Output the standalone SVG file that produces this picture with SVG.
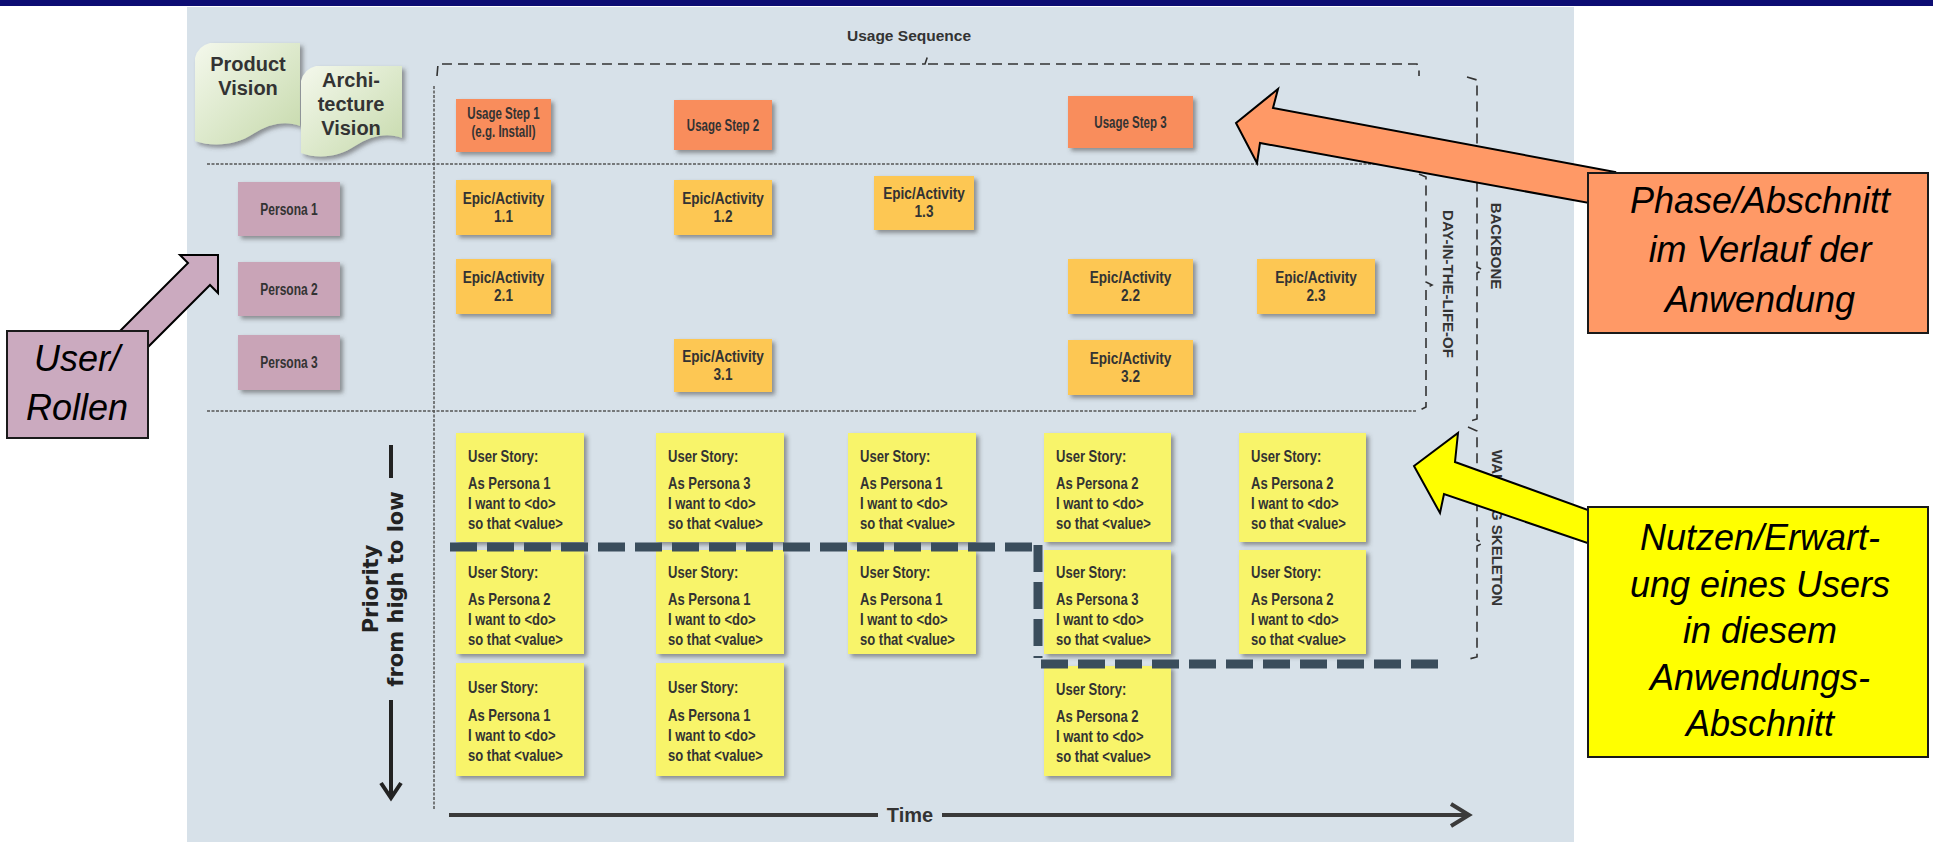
<svg xmlns="http://www.w3.org/2000/svg" width="1933" height="842" viewBox="0 0 1933 842">
<defs>
  <filter id="sh" x="-10%" y="-10%" width="125%" height="130%">
    <feDropShadow dx="3" dy="3" stdDeviation="2" flood-color="#4a4a4a" flood-opacity="0.55"/>
  </filter>
  <linearGradient id="doc" x1="0" y1="0" x2="1" y2="1">
    <stop offset="0" stop-color="#f4f8ec"/>
    <stop offset="0.5" stop-color="#dde9cc"/>
    <stop offset="1" stop-color="#c6d9ab"/>
  </linearGradient>
  <style>
    .t{font-family:"Liberation Sans",Arial,sans-serif;font-weight:bold;fill:#333;}
    .c{text-anchor:middle;}
    .step{fill:#f98d5b;filter:url(#sh);}
    .pers{fill:#c9a4b7;filter:url(#sh);}
    .epic{fill:#fdc752;filter:url(#sh);}
    .story{fill:#f8f46b;filter:url(#sh);}
    .f16{font-size:16px;}
    .f17{font-size:17px;}
    .st{font-size:16.5px;}
    .call{font-family:"Liberation Sans",Arial,sans-serif;font-style:italic;font-size:36px;fill:#000;text-anchor:middle;}
    .cbox{stroke:#1a1a1a;stroke-width:2;}
    .dash{fill:none;stroke:#333;stroke-width:1.6;stroke-dasharray:10 6;}
    .dot{fill:none;stroke:#555;stroke-width:1.5;stroke-dasharray:3 1.5;}
    .thick{fill:none;stroke:#3a4d5c;stroke-width:9;stroke-dasharray:27 10;}
    .rot{font-family:"Liberation Sans",Arial,sans-serif;font-weight:bold;font-size:15px;fill:#333;text-anchor:middle;}
    .axis{font-family:"DejaVu Sans",Verdana,sans-serif;font-weight:bold;fill:#222;text-anchor:middle;}
  </style>
</defs>

<!-- background -->
<rect x="0" y="0" width="1933" height="842" fill="#ffffff"/>
<rect x="0" y="0" width="1933" height="6" fill="#0d0d73"/>
<rect x="187" y="7" width="1387" height="835" fill="#d7e1e9"/>

<!-- connectors / guide lines -->
<g id="connectors">
  <path class="dash" d="M437,76 L438,64 L925,64 L928,55 M928,64 L1417,64 L1419,68 L1419,76"/>
  <line class="dot" x1="434" y1="86" x2="434" y2="810"/>
  <line class="dot" x1="207" y1="164" x2="1418" y2="164"/>
  <line class="dot" x1="207" y1="411" x2="1416" y2="411"/>
  <path class="dash" d="M1419,174 L1426,177 L1426,282 L1432,285 L1426,288 L1426,407 L1418,411"/>
  <path class="dash" d="M1467,77 L1477,80 L1477,267 L1483,270 L1477,273 L1477,419 L1467,422"/>
  <path class="dash" d="M1468,427 L1477,431 L1477,540 L1483,543 L1477,546 L1477,657 L1465,660"/>
  <line x1="391" y1="445" x2="391" y2="478" stroke="#222" stroke-width="4"/>
  <line x1="391" y1="700" x2="391" y2="797" stroke="#222" stroke-width="4"/>
  <polyline points="381,783 391,798 401,783" fill="none" stroke="#222" stroke-width="4"/>
  <line x1="449" y1="815" x2="878" y2="815" stroke="#3a3a3a" stroke-width="4"/>
  <line x1="942" y1="815" x2="1466" y2="815" stroke="#3a3a3a" stroke-width="4"/>
  <polyline points="1451,804 1469,815 1451,826" fill="none" stroke="#3a3a3a" stroke-width="4"/>
</g>

<!-- labels -->
<g id="labels">
  <text class="t c" x="909" y="41" font-size="15.5">Usage Sequence</text>
  <text class="rot" font-size="16" transform="translate(1443,284) rotate(90)">DAY-IN-THE-LIFE-OF</text>
  <text class="rot" transform="translate(1491,246) rotate(90)">BACKBONE</text>
  <text class="rot" transform="translate(1492,528) rotate(90)">WALKING SKELETON</text>
  <g transform="translate(378,589) rotate(-90)">
    <text class="axis" x="0" y="0" font-size="21">Priority</text>
    <text class="axis" x="0" y="25" font-size="21">from high to low</text>
  </g>
  <text class="t c" x="910" y="822" font-size="20" fill="#222">Time</text>
</g>

<!-- vision documents -->
<g id="product-vision">
  <path d="M195,58 Q198,46 210,43 L300,43 L300,126 C285,120 268,124 253,134 C238,144 215,148 195,141 Z" fill="url(#doc)" filter="url(#sh)"/>
  <text class="t c" x="248" y="71" font-size="20">Product</text>
  <text class="t c" x="248" y="95" font-size="20">Vision</text>
</g>
<g id="architecture-vision">
  <path d="M301,81 Q304,69 316,66 L402,66 L402,138 C387,132 370,136 355,146 C340,156 320,160 301,153 Z" fill="url(#doc)" filter="url(#sh)"/>
  <text class="t c" x="351" y="87" font-size="20">Archi-</text>
  <text class="t c" x="351" y="111" font-size="20">tecture</text>
  <text class="t c" x="351" y="135" font-size="20">Vision</text>
</g>

<!-- usage steps -->
<g id="step1"><rect class="step" x="456" y="99" width="95" height="53"/>
  <g transform="translate(503.5,0) scale(0.72,1)"><text class="t c f16" x="0" y="119">Usage Step 1</text><text class="t c f16" x="0" y="137">(e.g. Install)</text></g></g>
<g id="step2"><rect class="step" x="674" y="100" width="98" height="50"/>
  <g transform="translate(723,0) scale(0.72,1)"><text class="t c f16" x="0" y="131">Usage Step 2</text></g></g>
<g id="step3"><rect class="step" x="1068" y="96" width="125" height="52"/>
  <g transform="translate(1130.5,0) scale(0.72,1)"><text class="t c f16" x="0" y="128">Usage Step 3</text></g></g>

<!-- personas -->
<g id="persona1"><rect class="pers" x="238" y="182" width="102" height="54"/>
  <g transform="translate(289,0) scale(0.75,1)"><text class="t c f16" x="0" y="215">Persona 1</text></g></g>
<g id="persona2"><rect class="pers" x="238" y="262" width="102" height="54"/>
  <g transform="translate(289,0) scale(0.75,1)"><text class="t c f16" x="0" y="295">Persona 2</text></g></g>
<g id="persona3"><rect class="pers" x="238" y="335" width="102" height="55"/>
  <g transform="translate(289,0) scale(0.75,1)"><text class="t c f16" x="0" y="368">Persona 3</text></g></g>

<!-- epics -->
<g id="epic11"><rect class="epic" x="456" y="180" width="95" height="55"/>
  <g transform="translate(503.5,0) scale(0.8,1)"><text class="t c f17" x="0" y="204">Epic/Activity</text><text class="t c f17" x="0" y="222">1.1</text></g></g>
<g id="epic12"><rect class="epic" x="674" y="180" width="98" height="55"/>
  <g transform="translate(723,0) scale(0.8,1)"><text class="t c f17" x="0" y="204">Epic/Activity</text><text class="t c f17" x="0" y="222">1.2</text></g></g>
<g id="epic13"><rect class="epic" x="874" y="176" width="100" height="54"/>
  <g transform="translate(924,0) scale(0.8,1)"><text class="t c f17" x="0" y="199">Epic/Activity</text><text class="t c f17" x="0" y="217">1.3</text></g></g>
<g id="epic21"><rect class="epic" x="456" y="259" width="95" height="55"/>
  <g transform="translate(503.5,0) scale(0.8,1)"><text class="t c f17" x="0" y="283">Epic/Activity</text><text class="t c f17" x="0" y="301">2.1</text></g></g>
<g id="epic22"><rect class="epic" x="1068" y="259" width="125" height="55"/>
  <g transform="translate(1130.5,0) scale(0.8,1)"><text class="t c f17" x="0" y="283">Epic/Activity</text><text class="t c f17" x="0" y="301">2.2</text></g></g>
<g id="epic23"><rect class="epic" x="1257" y="259" width="118" height="55"/>
  <g transform="translate(1316,0) scale(0.8,1)"><text class="t c f17" x="0" y="283">Epic/Activity</text><text class="t c f17" x="0" y="301">2.3</text></g></g>
<g id="epic31"><rect class="epic" x="674" y="339" width="98" height="53"/>
  <g transform="translate(723,0) scale(0.8,1)"><text class="t c f17" x="0" y="362">Epic/Activity</text><text class="t c f17" x="0" y="380">3.1</text></g></g>
<g id="epic32"><rect class="epic" x="1068" y="340" width="125" height="55"/>
  <g transform="translate(1130.5,0) scale(0.8,1)"><text class="t c f17" x="0" y="364">Epic/Activity</text><text class="t c f17" x="0" y="382">3.2</text></g></g>

<!-- user stories -->
<g id="story-r1c1"><rect class="story" x="456" y="433" width="128" height="109"/>
  <g transform="translate(468,0) scale(0.79,1)"><text class="t st" x="0" y="462">User Story:</text><text class="t st" x="0" y="489">As Persona 1</text><text class="t st" x="0" y="509">I want to &lt;do&gt;</text><text class="t st" x="0" y="529">so that &lt;value&gt;</text></g></g>
<g id="story-r1c2"><rect class="story" x="656" y="433" width="128" height="109"/>
  <g transform="translate(668,0) scale(0.79,1)"><text class="t st" x="0" y="462">User Story:</text><text class="t st" x="0" y="489">As Persona 3</text><text class="t st" x="0" y="509">I want to &lt;do&gt;</text><text class="t st" x="0" y="529">so that &lt;value&gt;</text></g></g>
<g id="story-r1c3"><rect class="story" x="848" y="433" width="128" height="109"/>
  <g transform="translate(860,0) scale(0.79,1)"><text class="t st" x="0" y="462">User Story:</text><text class="t st" x="0" y="489">As Persona 1</text><text class="t st" x="0" y="509">I want to &lt;do&gt;</text><text class="t st" x="0" y="529">so that &lt;value&gt;</text></g></g>
<g id="story-r1c4"><rect class="story" x="1044" y="433" width="127" height="109"/>
  <g transform="translate(1056,0) scale(0.79,1)"><text class="t st" x="0" y="462">User Story:</text><text class="t st" x="0" y="489">As Persona 2</text><text class="t st" x="0" y="509">I want to &lt;do&gt;</text><text class="t st" x="0" y="529">so that &lt;value&gt;</text></g></g>
<g id="story-r1c5"><rect class="story" x="1239" y="433" width="127" height="109"/>
  <g transform="translate(1251,0) scale(0.79,1)"><text class="t st" x="0" y="462">User Story:</text><text class="t st" x="0" y="489">As Persona 2</text><text class="t st" x="0" y="509">I want to &lt;do&gt;</text><text class="t st" x="0" y="529">so that &lt;value&gt;</text></g></g>

<g id="story-r2c1"><rect class="story" x="456" y="550" width="128" height="104"/>
  <g transform="translate(468,0) scale(0.79,1)"><text class="t st" x="0" y="578">User Story:</text><text class="t st" x="0" y="605">As Persona 2</text><text class="t st" x="0" y="625">I want to &lt;do&gt;</text><text class="t st" x="0" y="645">so that &lt;value&gt;</text></g></g>
<g id="story-r2c2"><rect class="story" x="656" y="550" width="128" height="104"/>
  <g transform="translate(668,0) scale(0.79,1)"><text class="t st" x="0" y="578">User Story:</text><text class="t st" x="0" y="605">As Persona 1</text><text class="t st" x="0" y="625">I want to &lt;do&gt;</text><text class="t st" x="0" y="645">so that &lt;value&gt;</text></g></g>
<g id="story-r2c3"><rect class="story" x="848" y="550" width="128" height="104"/>
  <g transform="translate(860,0) scale(0.79,1)"><text class="t st" x="0" y="578">User Story:</text><text class="t st" x="0" y="605">As Persona 1</text><text class="t st" x="0" y="625">I want to &lt;do&gt;</text><text class="t st" x="0" y="645">so that &lt;value&gt;</text></g></g>
<g id="story-r2c4"><rect class="story" x="1044" y="550" width="127" height="104"/>
  <g transform="translate(1056,0) scale(0.79,1)"><text class="t st" x="0" y="578">User Story:</text><text class="t st" x="0" y="605">As Persona 3</text><text class="t st" x="0" y="625">I want to &lt;do&gt;</text><text class="t st" x="0" y="645">so that &lt;value&gt;</text></g></g>
<g id="story-r2c5"><rect class="story" x="1239" y="550" width="127" height="104"/>
  <g transform="translate(1251,0) scale(0.79,1)"><text class="t st" x="0" y="578">User Story:</text><text class="t st" x="0" y="605">As Persona 2</text><text class="t st" x="0" y="625">I want to &lt;do&gt;</text><text class="t st" x="0" y="645">so that &lt;value&gt;</text></g></g>

<g id="story-r3c1"><rect class="story" x="456" y="663" width="128" height="113"/>
  <g transform="translate(468,0) scale(0.79,1)"><text class="t st" x="0" y="693">User Story:</text><text class="t st" x="0" y="721">As Persona 1</text><text class="t st" x="0" y="741">I want to &lt;do&gt;</text><text class="t st" x="0" y="761">so that &lt;value&gt;</text></g></g>
<g id="story-r3c2"><rect class="story" x="656" y="663" width="128" height="113"/>
  <g transform="translate(668,0) scale(0.79,1)"><text class="t st" x="0" y="693">User Story:</text><text class="t st" x="0" y="721">As Persona 1</text><text class="t st" x="0" y="741">I want to &lt;do&gt;</text><text class="t st" x="0" y="761">so that &lt;value&gt;</text></g></g>
<g id="story-r3c4"><rect class="story" x="1044" y="666" width="127" height="110"/>
  <g transform="translate(1056,0) scale(0.79,1)"><text class="t st" x="0" y="695">User Story:</text><text class="t st" x="0" y="722">As Persona 2</text><text class="t st" x="0" y="742">I want to &lt;do&gt;</text><text class="t st" x="0" y="762">so that &lt;value&gt;</text></g></g>

<!-- walking skeleton cut line -->
<g id="cut-line">
  <path class="thick" d="M450,547 L1038,547 M1038,545 L1038,658 M1041,664 L1447,664"/>
</g>

<!-- callout arrows -->
<g id="callout-arrows">
  <polygon points="1236,123 1278,89 1273,108 1615,172 1600,205 1260,143 1257,163" fill="#ff9966" stroke="#000" stroke-width="2"/>
  <polygon points="1414,466 1458,433 1455,462 1610,518 1605,549 1444,494 1440,513" fill="#ffff00" stroke="#000" stroke-width="2"/>
  <polygon points="218,255 180,255 188,263 110,341 132,363 210,285 218,293" fill="#cbaabf" stroke="#000" stroke-width="2"/>
</g>

<!-- callouts -->
<g id="callout-phase">
  <rect class="cbox" x="1588" y="173" width="340" height="160" fill="#ff9966"/>
  <text class="call" x="1760" y="213">Phase/Abschnitt</text>
  <text class="call" x="1760" y="262">im Verlauf der</text>
  <text class="call" x="1760" y="312">Anwendung</text>
</g>
<g id="callout-nutzen">
  <rect class="cbox" x="1588" y="507" width="340" height="250" fill="#ffff00"/>
  <text class="call" x="1760" y="550">Nutzen/Erwart-</text>
  <text class="call" x="1760" y="597">ung eines Users</text>
  <text class="call" x="1760" y="643">in diesem</text>
  <text class="call" x="1760" y="690">Anwendungs-</text>
  <text class="call" x="1760" y="736">Abschnitt</text>
</g>
<g id="callout-user">
  <rect class="cbox" x="7" y="331" width="141" height="107" fill="#cbaabf"/>
  <text class="call" x="77" y="371">User/</text>
  <text class="call" x="77" y="420">Rollen</text>
</g>
</svg>
